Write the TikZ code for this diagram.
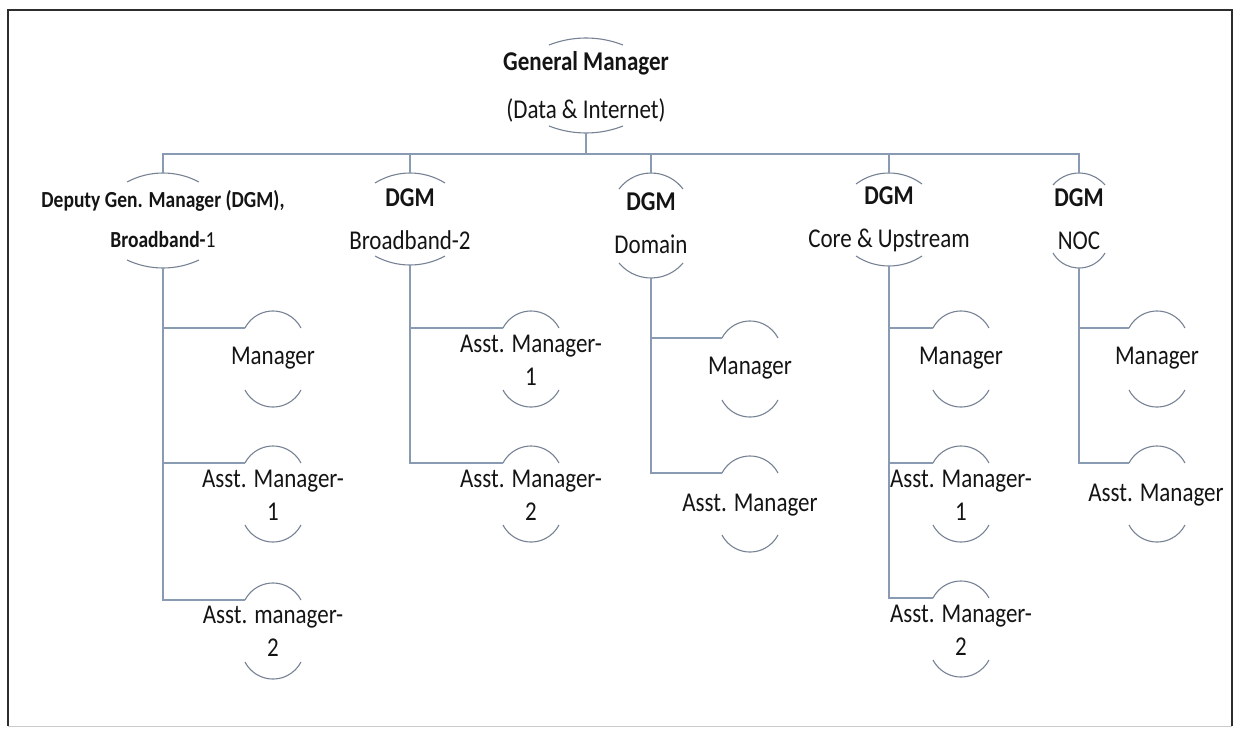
\documentclass[tikz,border=0pt]{standalone}
\usepackage{fontspec}
\setmainfont{Carlito}
\definecolor{connc}{RGB}{137,155,178}
\definecolor{arcc}{RGB}{118,130,148}
\definecolor{txtc}{RGB}{20,20,20}
\definecolor{framec}{RGB}{45,45,45}
\newcommand\arcpair[7]{%
 \pgfmathsetmacro\myrT{((#5)*(#5)+(#6)*(#6))/(2*(#6))}%
 \pgfmathsetmacro\myaT{asin((#5)/\myrT)}%
 \pgfmathsetmacro\myrB{((#5)*(#5)+(#7)*(#7))/(2*(#7))}%
 \pgfmathsetmacro\myaB{asin((#5)/\myrB)}%
 \coordinate (#1-top) at (#2,#3);
 \coordinate (#1-bot) at (#2,#4);
 \coordinate (#1-in) at (#2-#5,#3+#6);
 \draw[arcline] (#1-in) arc[start angle=90+\myaT, end angle=90-\myaT, radius=\myrT pt];
 \draw[arcline] (#2-#5,#4-#7) arc[start angle=270-\myaB, end angle=270+\myaB, radius=\myrB pt];
}
\newcommand\kid[3]{\arcpair{#1}{#2}{#3-17}{#3+79}{28}{17}{17}}
\newcommand\kf{\fontsize{23}{28}\selectfont}
\newcommand\df{\fontsize{23}{36.4}\selectfont}
\newcommand\gf{\fontsize{23}{40.7}\selectfont}
\newcommand\of{\fontsize{19.5}{33.9}\selectfont}
\tikzset{
 conn/.style={draw=connc, line width=1.8pt},
 arcline/.style={draw=arcc, line width=1.1pt},
 lbl/.style={text=txtc, align=center, inner sep=0pt, yscale=1.18},
}
\begin{document}
\begin{tikzpicture}[x=1pt,y=-1pt]
\useasboundingbox (0,0) rectangle (1236,728);
\draw[draw=framec, line width=1.5pt] (8,726) -- (8,10) -- (1232,10) -- (1232,726);
\draw[draw=black!20, line width=1pt] (8,726) -- (1232,726);
\coordinate (bar) at (586,154);

% General Manager
\node[lbl, font=\gf] (gm) at (586,87) {\textbf{General Manager}\\(Data \& Internet)};
\arcpair{gm}{586}{38}{133}{37}{7}{7}

% DGM level
\node[lbl, font=\of] (d1) at (163,219) {\textbf{Deputy Gen. Manager (DGM),}\\\textbf{Broadband-}1};
\arcpair{d1}{163}{173}{268}{36}{9}{8}
\node[lbl, font=\df] (d2) at (410,219) {\textbf{DGM}\\Broadband-2};
\arcpair{d2}{410}{173}{265}{35}{10}{9}
\node[lbl, font=\df] (d3) at (651,223) {\textbf{DGM}\\Domain};
\arcpair{d3}{651}{173}{278}{32}{16}{15}
\node[lbl, font=\df] (d4) at (889,219) {\textbf{DGM}\\Core \& Upstream};
\arcpair{d4}{889}{173}{266}{33}{11}{10}
\node[lbl, font=\df] (d5) at (1079,219) {\textbf{DGM}\\NOC};
\arcpair{d5}{1079}{173}{268}{26}{12}{15}

% children of DGM 1
\node[lbl, font=\kf] (c11) at (273,358) {Manager};
\kid{c11}{273}{328}
\node[lbl, font=\kf] (c12) at (273,495) {Asst. Manager-\\1};
\kid{c12}{273}{463}
\node[lbl, font=\kf] (c13) at (273,631) {Asst. manager-\\2};
\kid{c13}{273}{600}

% children of DGM 2
\node[lbl, font=\kf] (c21) at (531,360) {Asst. Manager-\\1};
\kid{c21}{531}{328}
\node[lbl, font=\kf] (c22) at (531,495) {Asst. Manager-\\2};
\kid{c22}{531}{463}

% children of DGM Domain
\node[lbl, font=\kf] (c31) at (750,368) {Manager};
\kid{c31}{750}{338}
\node[lbl, font=\kf] (c32) at (750,505) {Asst. Manager};
\kid{c32}{750}{473}

% children of DGM Core
\node[lbl, font=\kf] (c41) at (961,358) {Manager};
\kid{c41}{961}{328}
\node[lbl, font=\kf] (c42) at (961,495) {Asst. Manager-\\1};
\kid{c42}{961}{463}
\node[lbl, font=\kf] (c43) at (961,630) {Asst. Manager-\\2};
\kid{c43}{961}{598}

% children of DGM NOC
\node[lbl, font=\kf] (c51) at (1157,358) {Manager};
\kid{c51}{1157}{328}
\node[lbl, font=\kf] (c52) at (1156,495) {Asst. Manager};
\kid{c52}{1157}{463}

% connectors
\draw[conn] (gm-bot) -- (gm-bot |- bar);
\draw[conn] (d1-top) -- (d1-top |- bar) -- (d5-top |- bar) -- (d5-top);
\draw[conn] (d2-top |- bar) -- (d2-top);
\draw[conn] (d3-top |- bar) -- (d3-top);
\draw[conn] (d4-top |- bar) -- (d4-top);

\draw[conn] (d1-bot) -- (d1-bot |- c13-in) -- (c13-in);
\draw[conn] (d1-bot |- c11-in) -- (c11-in);
\draw[conn] (d1-bot |- c12-in) -- (c12-in);

\draw[conn] (d2-bot) -- (d2-bot |- c22-in) -- (c22-in);
\draw[conn] (d2-bot |- c21-in) -- (c21-in);

\draw[conn] (d3-bot) -- (d3-bot |- c32-in) -- (c32-in);
\draw[conn] (d3-bot |- c31-in) -- (c31-in);

\draw[conn] (d4-bot) -- (d4-bot |- c43-in) -- (c43-in);
\draw[conn] (d4-bot |- c41-in) -- (c41-in);
\draw[conn] (d4-bot |- c42-in) -- (c42-in);

\draw[conn] (d5-bot) -- (d5-bot |- c52-in) -- (c52-in);
\draw[conn] (d5-bot |- c51-in) -- (c51-in);
\end{tikzpicture}
\end{document}
